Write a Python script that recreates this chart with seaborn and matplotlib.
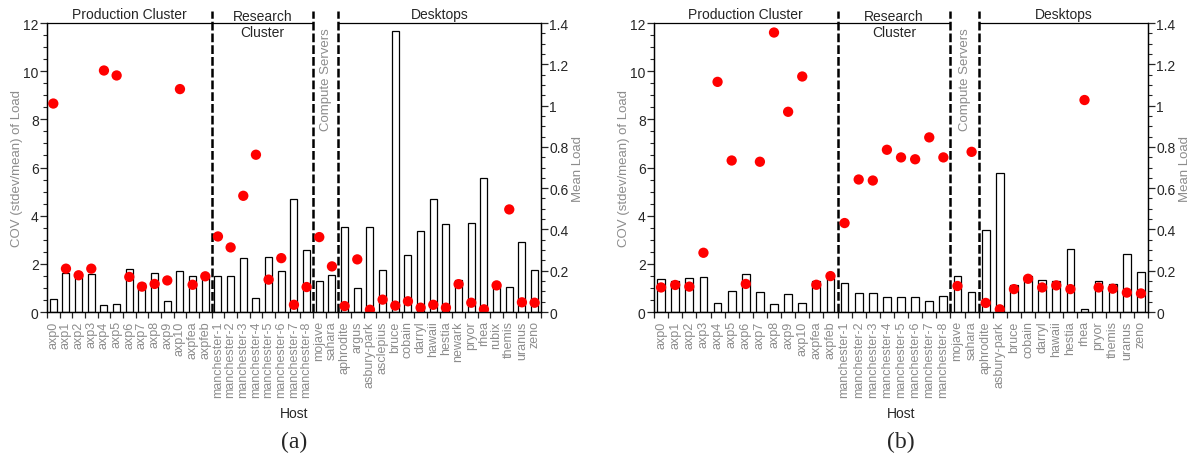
import numpy as np
import pandas as pd
import matplotlib
matplotlib.use("Agg")
import matplotlib.pyplot as plt
import matplotlib.transforms as mtransforms
from matplotlib.ticker import MultipleLocator, FuncFormatter
import seaborn as sns

# hosts per group
prod_hosts = ["axp0", "axp1", "axp2", "axp3", "axp4", "axp5", "axp6", "axp7",
              "axp8", "axp9", "axp10", "axpfea", "axpfeb"]
research_hosts = ["manchester-1", "manchester-2", "manchester-3", "manchester-4",
                  "manchester-5", "manchester-6", "manchester-7", "manchester-8"]
server_hosts = ["mojave", "sahara"]
desktop_hosts_a = ["aphrodite", "argus", "asbury-park", "asclepius", "bruce",
                   "cobain", "darryl", "hawaii", "hestia", "newark", "pryor",
                   "rhea", "rubix", "themis", "uranus", "zeno"]
desktop_hosts_b = ["aphrodite", "asbury-park", "bruce", "cobain", "darryl",
                   "hawaii", "hestia", "rhea", "pryor", "themis", "uranus", "zeno"]

# (a) COV of load (bars, left axis) and mean load (dots, right axis)
cov_a = [0.55, 1.6, 1.5, 1.58, 0.28, 0.33, 1.77, 1.2, 1.6, 0.46, 1.69, 1.49, 1.5,
         1.49, 1.49, 2.25, 0.6, 2.28, 1.69, 4.7, 2.59,
         1.29, 1.55,
         3.53, 0.98, 3.54, 1.76, 11.66, 2.35, 3.36, 4.7, 3.65, 1.31, 3.69, 5.56,
         1.15, 1.04, 2.9, 1.76]
mean_a = [1.01, 0.21, 0.178, 0.21, 1.17, 1.146, 0.17, 0.123, 0.136, 0.153, 1.08, 0.132, 0.173,
          0.366, 0.313, 0.563, 0.762, 0.157, 0.261, 0.035, 0.121,
          0.363, 0.221,
          0.029, 0.255, 0.011, 0.06, 0.031, 0.052, 0.021, 0.035, 0.021, 0.135, 0.045, 0.013,
          0.129, 0.497, 0.047, 0.045]

# (b)
cov_b = [1.36, 1.29, 1.4, 1.45, 0.37, 0.89, 1.58, 0.82, 0.35, 0.76, 0.39, 1.29, 1.42,
         1.2, 0.79, 0.79, 0.62, 0.62, 0.62, 0.46, 0.66,
         1.49, 0.83,
         3.42, 5.77, 1.13, 1.51, 1.31, 1.27, 2.61, 0.14, 1.27, 1.15, 2.39, 1.66]
mean_b = [0.119, 0.131, 0.123, 0.287, 1.115, 0.734, 0.136, 0.728, 1.354, 0.97, 1.141, 0.132, 0.174,
          0.431, 0.642, 0.637, 0.786, 0.749, 0.74, 0.846, 0.749,
          0.126, 0.776,
          0.044, 0.013, 0.111, 0.161, 0.119, 0.129, 0.111, 1.027, 0.119, 0.113, 0.094, 0.09]

GRAY = "#8c8c8c"

sns.set_style("ticks")
plt.rcParams["font.family"] = ["Liberation Sans", "DejaVu Sans"]
plt.rcParams["font.size"] = 10


def draw_panel(ax, desktops, cov, mean, tag):
    hosts = prod_hosts + research_hosts + server_hosts + desktops
    df = pd.DataFrame({"host": hosts, "cov": cov, "mean": mean})
    n = len(df)

    sns.barplot(data=df, x="host", y="cov", ax=ax, color="white", saturation=1,
                edgecolor="black", linewidth=0.9, width=0.55)
    ax2 = ax.twinx()
    sns.scatterplot(x=np.arange(n), y=df["mean"], ax=ax2, color="red", s=55,
                    edgecolor="none", legend=False)

    ax.set_xlim(-0.5, n - 0.5)
    ax.set_ylim(0, 12)
    ax2.set_ylim(0, 1.4)

    # ticks
    ax.yaxis.set_major_locator(MultipleLocator(2))
    ax.yaxis.set_minor_locator(MultipleLocator(0.5))
    ax2.yaxis.set_major_locator(MultipleLocator(0.2))
    ax2.yaxis.set_minor_locator(MultipleLocator(0.05))
    ax2.yaxis.set_major_formatter(FuncFormatter(lambda v, p: "%g" % round(v, 2)))
    ax.set_xticks(np.arange(n))
    ax.set_xticklabels(hosts, rotation=90, fontsize=9, color=GRAY)
    ax.set_xticks(np.arange(n + 1) - 0.5, minor=True)
    ax.tick_params(axis="x", which="major", length=0, pad=6)
    ax.tick_params(axis="x", which="minor", length=4, width=0.9, direction="out")
    for a in (ax, ax2):
        a.tick_params(axis="y", which="major", length=5, width=0.9, labelsize=10, pad=1)
        a.tick_params(axis="y", which="minor", length=3, width=0.8)
        a.spines["top"].set_visible(False)
        for s in ("left", "right", "bottom"):
            a.spines[s].set_linewidth(0.9)
            a.spines[s].set_color("black")

    ax.set_xlabel("Host", fontsize=10)
    ax.xaxis.set_label_coords(0.5, -0.325)
    ax.set_ylabel("COV (stdev/mean) of Load", color=GRAY, fontsize=9.5)
    ax.yaxis.set_label_coords(-0.048, 0.5)
    ax2.set_ylabel("Mean Load", color=GRAY, fontsize=9.5)
    ax2.yaxis.set_label_coords(1.062, 0.5)

    # group separators and headers
    b1 = len(prod_hosts) - 0.5
    b2 = b1 + len(research_hosts)
    b3 = b2 + len(server_hosts)
    tr = mtransforms.blended_transform_factory(ax.transData, ax.transAxes)
    for b in (b1, b2, b3):
        ax.plot([b, b], [0, 1.042], transform=tr, color="black", lw=1.8,
                ls=(0, (3.5, 1.2)), clip_on=False, zorder=5)
    ax.plot([-0.5, b2], [1, 1], transform=tr, color="black", lw=0.9, clip_on=False)
    ax.plot([b3, n - 0.5], [1, 1], transform=tr, color="black", lw=0.9, clip_on=False)
    ax.text((-0.5 + b1) / 2, 1.031, "Production Cluster", transform=tr,
            ha="center", va="center", fontsize=10)
    ax.text((b1 + b2) / 2, 0.997, "Research\nCluster", transform=tr,
            ha="center", va="center", fontsize=10, linespacing=1.25)
    ax.text((b2 + b3) / 2, 0.986, "Compute Servers", transform=tr, rotation=90,
            ha="center", va="top", fontsize=9.5, color=GRAY)
    ax.text((b3 + n - 0.5) / 2, 1.031, "Desktops", transform=tr,
            ha="center", va="center", fontsize=10)

    pos = ax.get_position()
    ax.figure.text(pos.x0 + pos.width / 2, 0.047, tag, ha="center", va="center",
                   fontsize=17, family=["Liberation Serif", "DejaVu Serif"])


fig = plt.figure(figsize=(11.92, 4.64), dpi=100)
ax_a = fig.add_axes([0.0394, 0.3254, 0.4144, 0.6228])
ax_b = fig.add_axes([0.5487, 0.3254, 0.4144, 0.6228])
draw_panel(ax_a, desktop_hosts_a, cov_a, mean_a, "(a)")
draw_panel(ax_b, desktop_hosts_b, cov_b, mean_b, "(b)")

fig.savefig("out.png", dpi=100)
